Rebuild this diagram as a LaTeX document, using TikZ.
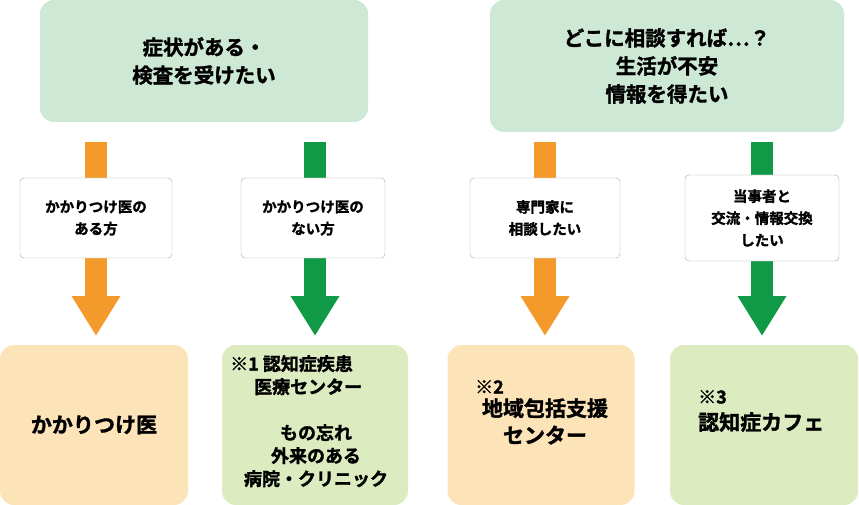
\documentclass[tikz,border=0pt]{standalone}
\usepackage{fontspec}
\setmainfont{Noto Sans CJK JP}[BoldFont={Noto Sans CJK JP Bold},BoldFeatures={FakeBold=1.5}]
\usetikzlibrary{arrows.meta}
\definecolor{topg}{HTML}{CDE8D4}
\definecolor{botg}{HTML}{DCEBC0}
\definecolor{boto}{HTML}{FCE3B8}
\definecolor{aro}{HTML}{F39A2B}
\definecolor{arg}{HTML}{109A48}
\begin{document}
\begin{tikzpicture}[x=1pt,y=-1pt,
 top/.style={fill=topg,rounded corners=14pt,align=center,font=\fontsize{20.5}{28}\selectfont\bfseries,inner sep=0},
 bot/.style={rounded corners=14pt,align=center,font=\fontsize{21}{26}\selectfont\bfseries,inner sep=0},
 lab/.style={fill=white,draw=gray!70,rounded corners=4pt,align=center,font=\fontsize{14.5}{22}\selectfont\bfseries,inner sep=0},
 arr/.style={line width=22pt,-{Triangle[width=46pt,length=40pt]}}]
\useasboundingbox (0,0) rectangle (859,505);
\node[top,minimum width=328pt,minimum height=122pt] (t1) at (204,61) {症状がある・\\検査を受けたい};
\node[top,minimum width=354pt,minimum height=132pt] (t2) at (667,66) {どこに相談すれば…？\\生活が不安\\情報を得たい};
\node[bot,fill=boto,minimum width=188pt,minimum height=160pt] (b1) at (94,425) {かかりつけ医};
\node[bot,fill=botg,minimum width=186pt,minimum height=160pt] (b2) at (315,425) {};
\node[bot,fill=boto,minimum width=187pt,minimum height=160pt] (b3) at (541,425) {};
\node[bot,fill=botg,minimum width=188pt,minimum height=160pt] (b4) at (764,425) {};
\node[font=\fontsize{18}{23}\selectfont\bfseries,align=left,anchor=north west,inner sep=0] (b2a) at (230,355) {※1 認知症疾患\\\hspace*{24pt}医療センター};
\node[font=\fontsize{18}{23}\selectfont\bfseries,align=center,anchor=north,inner sep=0] (b2b) at (316,424) {もの忘れ\\外来のある\\病院・クリニック};
\node[font=\fontsize{18}{24}\selectfont\bfseries,align=left,anchor=north west,inner sep=0] (b3a) at (475,380) {※2};
\node[font=\fontsize{21}{27}\selectfont\bfseries,align=center,anchor=north,inner sep=0] (b3b) at (545,398) {地域包括支援\\センター};
\node[font=\fontsize{18}{24}\selectfont\bfseries,align=left,anchor=north west,inner sep=0] (b4a) at (698,390) {※3};
\node[font=\fontsize{21}{26}\selectfont\bfseries,anchor=north west,inner sep=0] (b4b) at (698,412) {認知症カフェ};
\coordinate (s1) at (96,142); \coordinate (e1) at (96,336);
\coordinate (s2) at (315,142); \coordinate (e2) at (315,336);
\coordinate (s3) at (545,142); \coordinate (e3) at (545,336);
\coordinate (s4) at (762,142); \coordinate (e4) at (762,336);
\draw[arr,aro] (s1) -- (e1);
\draw[arr,arg] (s2) -- (e2);
\draw[arr,aro] (s3) -- (e3);
\draw[arr,arg] (s4) -- (e4);
\node[lab,minimum width=152pt,minimum height=80pt] (l1) at (96,218) {かかりつけ医の\\ある方};
\node[lab,minimum width=144pt,minimum height=80pt] (l2) at (313,218) {かかりつけ医の\\ない方};
\node[lab,minimum width=150pt,minimum height=80pt] (l3) at (545,218) {専門家に\\相談したい};
\node[lab,minimum width=154pt,minimum height=86pt] (l4) at (762,218) {当事者と\\交流・情報交換\\したい};
\end{tikzpicture}
\end{document}
